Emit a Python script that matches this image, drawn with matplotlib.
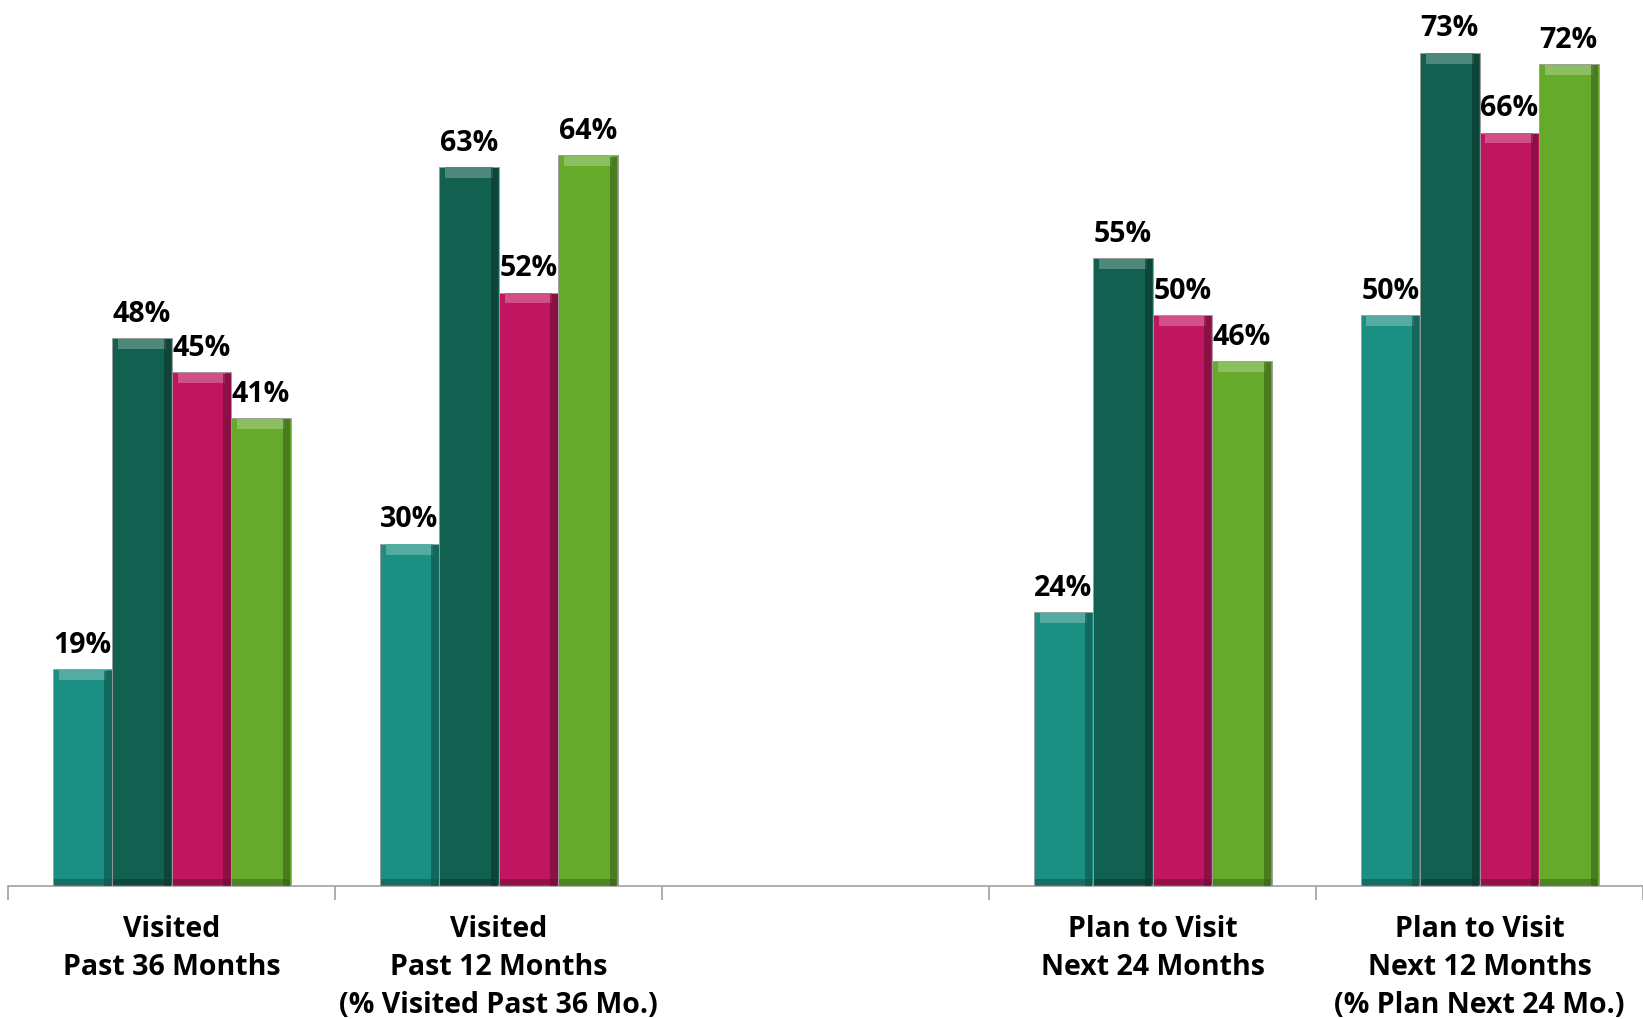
import numpy as np
import matplotlib.pyplot as plt
import matplotlib.colors as mcolors

# Data
categories = ['Visited\nPast 36 Months',
              'Visited\nPast 12 Months\n(% Visited Past 36 Mo.)',
              '',
              'Plan to Visit\nNext 24 Months',
              'Plan to Visit\nNext 12 Months\n(% Plan Next 24 Mo.)']
series_1 = [19, 30, None, 24, 50]
series_2 = [48, 63, None, 55, 73]
series_3 = [45, 52, None, 50, 66]
series_4 = [41, 64, None, 46, 72]
colors = ['#1b8f81', '#12604f', '#c0155f', '#65aa2b']

plt.rcParams['font.family'] = ['Open Sans', 'DejaVu Sans']

fig = plt.figure(figsize=(16.43, 10.20), dpi=100)
ax = fig.add_axes([0.005, 0.130, 0.995, 0.870])

x = np.arange(len(categories))
width = 0.182
all_series = [series_1, series_2, series_3, series_4]

for i, (vals, col) in enumerate(zip(all_series, colors)):
    offset = (i - 1.5) * width
    for xi, v in zip(x, vals):
        if v is None:
            continue
        xc = xi + offset
        ax.bar(xc, v, width, color=col, edgecolor='#9a9a9a', linewidth=0.6, zorder=2)
        # bevel: light top band, dark right strip, dark bottom band
        light = mcolors.to_rgb(col)
        light = tuple(c + (1 - c) * 0.25 for c in light)
        dark = tuple(c * 0.55 for c in mcolors.to_rgb(col))
        ax.bar(xc, 0.9, width * 0.8, bottom=v - 0.95, color=light, linewidth=0, zorder=3)
        ax.bar(xc + width * 0.43, v - 0.1, width * 0.12, color=dark, alpha=0.6, linewidth=0, zorder=3)
        ax.bar(xc, 0.6, width * 0.96, bottom=0.05, color=dark, alpha=0.5, linewidth=0, zorder=3)
        ax.text(xc, v + 0.9, f'{v}%', ha='center', va='bottom',
                fontsize=20.5, fontweight='bold', color='black', zorder=4)

ax.set_xlim(-0.5, len(categories) - 0.5)
ax.set_ylim(0, 77.7)

ax.set_xticks(x)
ax.set_xticklabels(categories, fontsize=20.5, fontweight='bold', linespacing=1.4, va='top')
ax.tick_params(axis='x', which='major', length=0, pad=20)
ax.set_xticks(np.arange(len(categories) + 1) - 0.5, minor=True)
ax.tick_params(axis='x', which='minor', length=10, color='#a0a0a0', width=1.2)

ax.set_yticks([])
for s in ['top', 'right', 'left']:
    ax.spines[s].set_visible(False)
ax.spines['bottom'].set_color('#a0a0a0')
ax.spines['bottom'].set_linewidth(1.2)

fig.savefig('out.png', dpi=100)
